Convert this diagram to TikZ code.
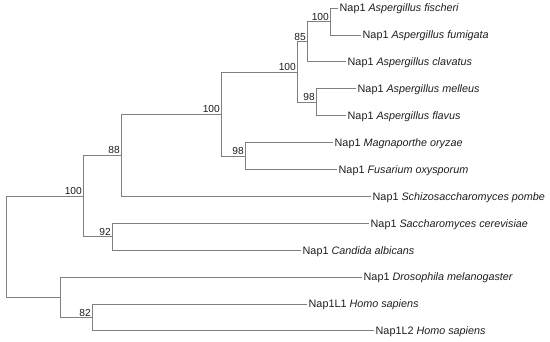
\documentclass[tikz,border=0pt]{standalone}
\usepackage{fontspec}
\setmainfont{Liberation Sans}
\definecolor{treegray}{RGB}{128,128,128}
\definecolor{ink}{RGB}{30,30,30}
\begin{document}
\begin{tikzpicture}[x=1pt,y=-1pt,
  br/.style={draw=treegray, line width=0.7pt},
  leaf/.style={anchor=west, inner sep=1.5pt, text height=7.8pt, text depth=0pt,
    font=\fontsize{10.8}{12}\selectfont, text=ink},
  bs/.style={anchor=south east, inner xsep=1pt, inner ysep=1pt,
    font=\fontsize{10.2}{12}\selectfont, text=ink}]
\useasboundingbox (0,0) rectangle (550,341);

% leaves
\node[leaf] (fis) at (338,8)     {Nap1 \textit{Aspergillus fischeri}};
\node[leaf] (fum) at (361,34.9)  {Nap1 \textit{Aspergillus fumigata}};
\node[leaf] (cla) at (346,61.8)  {Nap1 \textit{Aspergillus clavatus}};
\node[leaf] (mel) at (356,88.7)  {Nap1 \textit{Aspergillus melleus}};
\node[leaf] (fla) at (346,115.6) {Nap1 \textit{Aspergillus flavus}};
\node[leaf] (mag) at (333,142.5) {Nap1 \textit{Magnaporthe oryzae}};
\node[leaf] (fus) at (337,169.4) {Nap1 \textit{Fusarium oxysporum}};
\node[leaf] (sch) at (371,196.3) {Nap1 \textit{Schizosaccharomyces pombe}};
\node[leaf] (sac) at (369,223.2) {Nap1 \textit{Saccharomyces cerevisiae}};
\node[leaf] (can) at (301,250.1) {Nap1 \textit{Candida albicans}};
\node[leaf] (dro) at (362,277)   {Nap1 \textit{Drosophila melanogaster}};
\node[leaf] (lA)  at (307,303.9) {Nap1L1 \textit{Homo sapiens}};
\node[leaf] (lB)  at (374,330.8) {Nap1L2 \textit{Homo sapiens}};

% internal nodes
\coordinate (F) at (330,21.5);
\coordinate (E) at (307,41.6);
\coordinate (G) at (316,102.2);
\coordinate (D) at (297,71.9);
\coordinate (H) at (245,156);
\coordinate (C) at (221,114);
\coordinate (B) at (121,155.2);
\coordinate (I) at (112,236.7);
\coordinate (A) at (83,196);
\coordinate (K) at (92,317.4);
\coordinate (J) at (60,297.2);
\coordinate (R) at (6,246.6);

% branches
\draw[br] (F) |- (fis.west);
\draw[br] (F) |- (fum.west);
\draw[br] (E) |- (F);
\draw[br] (E) |- (cla.west);
\draw[br] (G) |- (mel.west);
\draw[br] (G) |- (fla.west);
\draw[br] (D) |- (E);
\draw[br] (D) |- (G);
\draw[br] (H) |- (mag.west);
\draw[br] (H) |- (fus.west);
\draw[br] (C) |- (D);
\draw[br] (C) |- (H);
\draw[br] (B) |- (C);
\draw[br] (B) |- (sch.west);
\draw[br] (I) |- (sac.west);
\draw[br] (I) |- (can.west);
\draw[br] (A) |- (B);
\draw[br] (A) |- (I);
\draw[br] (K) |- (lA.west);
\draw[br] (K) |- (lB.west);
\draw[br] (J) |- (dro.west);
\draw[br] (J) |- (K);
\draw[br] (R) |- (A);
\draw[br] (R) |- (J);

% bootstrap values
\node[bs] (bF) at (F) {100};
\node[bs] (bE) at (E) {85};
\node[bs] (bD) at (D) {100};
\node[bs] (bG) at (G) {98};
\node[bs] (bC) at (C) {100};
\node[bs] (bH) at (H) {98};
\node[bs] (bB) at (B) {88};
\node[bs] (bA) at (A) {100};
\node[bs] (bI) at (I) {92};
\node[bs] (bK) at (K) {82};
\end{tikzpicture}
\end{document}
